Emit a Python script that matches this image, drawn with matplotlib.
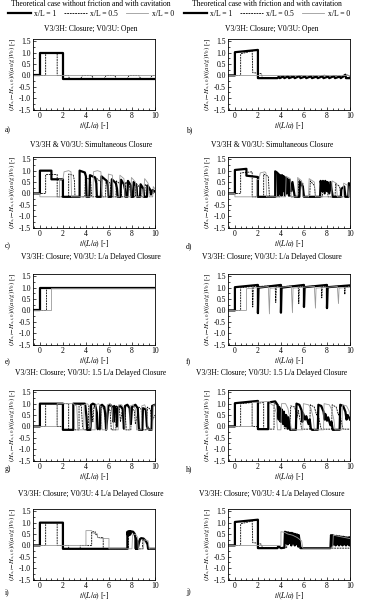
import matplotlib
matplotlib.use('Agg')
import matplotlib.pyplot as plt
from matplotlib.lines import Line2D
from matplotlib.ticker import MultipleLocator

plt.rcParams['font.family'] = ['Liberation Serif', 'DejaVu Serif']
plt.rcParams['mathtext.fontset'] = 'stix'

# (t/(L/a), head) break points, per panel and section
# a) no friction, V3 closure, V0 open
a_x1 = [(-0.6, 0), (0, 0), (0, 1.0), (2.0, 1.0), (2.0, -0.14), (10, -0.14)]
a_x05 = [(-0.6, 0), (0.5, 0), (0.5, 1.0), (1.5, 1.0), (1.5, 0), (2.5, 0), (2.55, -0.14), (3.55, -0.14),
         (3.7, 0), (4.5, 0), (4.65, -0.14), (5.6, -0.14), (5.75, 0), (6.5, 0), (6.65, -0.14), (7.6, -0.14),
         (7.75, 0), (8.6, 0), (8.75, -0.14), (9.6, -0.14), (9.75, 0), (10, 0)]
a_x0 = [(-0.6, 0), (10, 0)]

# b) friction, V3 closure, V0 open
b_x1 = [(-0.6, 0), (0, 0), (0, 1.02), (2.0, 1.12), (2.0, -0.12), (3.7, -0.12), (3.8, -0.06), (3.9, -0.12),
        (4.2, -0.05), (4.3, -0.12), (4.6, -0.04), (4.7, -0.12), (5.1, -0.05), (5.2, -0.12), (5.6, -0.03),
        (5.7, -0.12), (6.1, -0.05), (6.2, -0.12), (6.6, -0.04), (6.7, -0.12), (7.1, -0.05), (7.2, -0.12),
        (7.6, -0.04), (7.7, -0.12), (8.1, -0.05), (8.2, -0.12), (8.6, -0.03), (8.7, -0.12), (9.1, -0.05),
        (9.2, -0.12), (9.6, 0.03), (9.65, -0.12), (10, -0.12)]
b_x05 = [(-0.6, 0), (0.5, 0), (0.5, 0.95), (1.5, 1.07), (1.55, 0.12), (2.0, 0.1), (2.3, 0.07), (2.4, -0.1),
         (3.7, -0.1), (4.0, -0.03), (4.4, -0.1), (4.9, -0.02), (5.3, -0.1), (5.8, 0.0), (6.3, -0.1),
         (6.8, -0.02), (7.3, -0.1), (7.8, 0.02), (8.3, -0.1), (8.8, 0.0), (9.3, -0.1), (9.8, 0.02), (10, -0.08)]
b_x0 = [(-0.6, 0), (10, 0)]

# c) no friction, simultaneous closure
c_x1 = [(-0.6, 0), (0, 0), (0, 1.0), (1.0, 1.0), (1.0, 0.62), (2.0, 0.62), (2.0, -0.15), (3.45, -0.15),
        (3.45, 1.0), (3.9, 0.92), (4.0, 0.75), (4.05, -0.15), (4.3, -0.15), (4.35, 0.8), (4.8, 0.7),
        (4.9, 0.45), (4.95, -0.15), (5.3, -0.15), (5.35, 0.75), (5.8, 0.55), (5.9, 0.35), (5.95, -0.15),
        (6.2, -0.15), (6.25, 0.62), (6.6, 0.45), (6.7, 0.2), (6.75, -0.15), (7.0, -0.15), (7.05, 0.6),
        (7.3, 0.4), (7.4, 0.15), (7.45, -0.15), (7.6, -0.15), (7.65, 0.55), (7.9, 0.35), (7.95, -0.15),
        (8.1, -0.15), (8.15, 0.5), (8.4, 0.3), (8.45, -0.15), (8.7, -0.15), (8.75, 0.4), (9.0, 0.2),
        (9.05, -0.15), (9.3, -0.15), (9.35, 0.35), (9.6, 0.15), (9.65, -0.05), (9.8, 0.15), (10, 0.08)]
c_x05 = [(-0.6, 0), (0.5, 0), (0.5, 0.83), (1.5, 0.83), (1.5, -0.15), (2.5, -0.15), (2.5, 0.85), (2.9, 0.8),
         (3.0, 0.55), (3.05, -0.15), (3.9, -0.15), (3.95, 0.7), (4.4, 0.6), (4.5, -0.15), (4.9, -0.15),
         (4.95, 0.65), (5.3, 0.5), (5.4, -0.15), (5.7, -0.15), (5.75, 0.6), (6.1, 0.45), (6.2, -0.15),
         (6.6, -0.15), (6.65, 0.55), (7.0, 0.4), (7.1, -0.15), (7.4, -0.15), (7.45, 0.5), (7.8, 0.3),
         (7.9, -0.15), (8.3, -0.15), (8.35, 0.45), (8.7, 0.25), (8.8, -0.15), (9.1, -0.15), (9.15, 0.4),
         (9.5, 0.2), (9.6, -0.05), (10, 0.05)]
c_x0 = [(-0.6, 0), (0, 0), (0, -0.15), (1.7, -0.15), (1.7, 0.62), (2.0, 0.62), (2.1, 0.95), (2.5, 1.0),
        (2.7, 0.95), (2.75, -0.15), (4.6, -0.15), (4.65, 0.95), (5.0, 1.0), (5.3, 0.95), (5.4, -0.15),
        (5.9, -0.15), (5.95, 0.85), (6.3, 0.8), (6.4, -0.15), (6.9, -0.15), (6.95, 0.8), (7.3, 0.65),
        (7.4, -0.15), (7.9, -0.15), (7.95, 0.7), (8.3, 0.5), (8.4, -0.15), (9.0, -0.15), (9.1, 0.65),
        (9.4, 0.45), (9.5, -0.15), (9.8, -0.15), (9.85, 0.3), (10, 0.2)]

# d) friction, simultaneous closure
d_x1 = [(-0.6, 0), (0, 0), (0, 1.03), (1.0, 1.08), (1.0, 0.78), (2.0, 0.72), (2.0, -0.15), (3.5, -0.15),
        (3.5, 0.97), (3.7, 0.9), (3.75, -0.1), (3.8, 0.85), (3.9, 0.0), (3.95, 0.8), (4.05, -0.1),
        (4.1, 0.8), (4.2, 0.1), (4.25, 0.75), (4.35, -0.1), (4.4, 0.7), (4.5, 0.0), (4.55, 0.65),
        (4.7, -0.1), (4.75, 0.6), (4.9, 0.1), (5.0, 0.5), (5.2, -0.15), (5.6, -0.15), (5.65, 0.5),
        (5.9, 0.3), (6.0, -0.15), (7.4, -0.15), (7.45, 0.55), (7.6, 0.1), (7.65, 0.55), (7.8, 0.0),
        (7.85, 0.55), (8.0, 0.1), (8.05, 0.5), (8.2, 0.0), (8.3, 0.5), (8.5, -0.15), (9.2, -0.15),
        (9.25, 0.2), (9.5, 0.3), (9.6, -0.15), (9.85, -0.15), (9.9, 0.45), (10, 0.4)]
d_x05 = [(-0.6, 0), (0.5, 0), (0.5, 0.9), (1.5, 0.95), (1.5, -0.15), (2.5, -0.15), (2.5, 0.85), (2.9, 0.75),
         (3.0, -0.15), (3.9, -0.15), (3.95, 0.8), (4.3, 0.7), (4.4, -0.1), (4.5, 0.65), (4.7, 0.5),
         (4.8, -0.15), (5.5, -0.15), (5.55, 0.6), (5.9, 0.45), (6.0, -0.15), (6.5, -0.15), (6.55, 0.55),
         (6.9, 0.35), (7.0, -0.15), (7.6, -0.15), (7.65, 0.5), (8.0, 0.3), (8.1, -0.15), (8.7, -0.15),
         (8.75, 0.45), (9.1, 0.3), (9.2, -0.15), (10, -0.15)]
d_x0 = [(-0.6, 0), (0, 0), (0, -0.15), (1.9, -0.15), (1.9, 0.6), (2.1, 0.62), (2.2, 0.9), (2.6, 0.95),
        (2.7, 0.9), (2.75, -0.15), (4.4, -0.15), (4.45, 0.75), (4.8, 0.65), (4.9, -0.15), (5.4, -0.15),
        (5.45, 0.7), (5.8, 0.55), (5.9, -0.15), (6.4, -0.15), (6.45, 0.65), (6.9, 0.5), (7.0, -0.15),
        (8.4, -0.15), (8.45, 0.55), (8.8, 0.45), (8.9, -0.15), (9.4, -0.15), (9.45, 0.45), (9.8, 0.35),
        (9.9, -0.15), (10, -0.15)]

# e) no friction, L/a delayed closure
e_x1 = [(-0.6, 0), (0, 0), (0, 1.0), (10, 1.0)]
e_x05 = [(-0.6, 0), (0.5, 0), (0.5, 1.0), (10, 1.0)]
e_x0 = [(-0.6, 0), (1.0, 0), (1.0, 1.0), (10, 1.0)]

# f) friction, L/a delayed closure
f_x1 = [(-0.6, 0), (0, 0), (0, 1.02), (2.0, 1.12), (2.0, -0.12), (2.05, 1.0), (4.0, 1.12), (4.0, -0.1),
        (4.05, 1.0), (6.0, 1.12), (6.0, 0.15), (6.05, 1.02), (8.0, 1.12), (8.0, 0.1), (8.05, 1.02), (10, 1.1)]
f_x05 = [(-0.6, 0), (0.5, 0), (0.5, 1.0), (1.5, 1.05), (1.55, 0.15), (1.6, 1.05), (3.5, 1.08), (3.55, 0.35),
         (3.6, 1.04), (5.5, 1.08), (5.55, 0.3), (5.6, 1.04), (7.5, 1.08), (7.55, 0.55), (7.6, 1.04),
         (9.5, 1.07), (9.55, 0.7), (9.6, 1.04), (10, 1.05)]
f_x0 = [(-0.6, 0), (1.0, 0), (1.0, 0.95), (2.9, 1.05), (3.0, -0.15), (3.05, 0.97), (4.9, 1.06), (5.0, -0.1),
        (5.05, 0.98), (6.9, 1.06), (7.0, 0.1), (7.05, 0.98), (8.9, 1.05), (9.0, 0.3), (9.05, 0.98), (10, 1.02)]

# g) no friction, 1.5 L/a delayed closure
g_x1 = [(-0.6, 0), (0, 0), (0, 1.0), (2.0, 1.0), (2.0, -0.15), (2.9, -0.15), (2.9, 1.0), (3.9, 1.0),
        (3.95, 0.9), (4.05, 0.4), (4.1, -0.15), (4.4, -0.15), (4.45, 0.95), (4.6, 1.0), (4.8, 0.95),
        (4.95, 0.6), (5.0, -0.1), (5.2, -0.1), (5.25, 0.9), (5.4, 0.95), (5.6, 0.85), (5.7, 0.4),
        (5.75, -0.15), (5.95, 0.9), (6.1, 0.95), (6.3, 0.85), (6.4, 0.2), (6.45, 0.9), (6.6, 0.8),
        (6.7, 0.0), (6.8, 0.85), (7.0, 0.9), (7.2, 0.75), (7.3, -0.1), (7.4, 0.9), (7.6, 0.95), (7.8, 0.8),
        (7.9, 0.1), (8.0, 0.85), (8.3, 0.95), (8.5, 0.8), (8.6, -0.15), (8.9, -0.15), (8.95, 0.8),
        (9.2, 0.75), (9.3, 0.0), (9.5, -0.15), (9.7, -0.15), (9.75, 0.9), (10, 0.95)]
g_x05 = [(-0.6, 0), (0.5, 0), (0.5, 1.0), (1.5, 1.0), (1.5, 0.0), (2.0, 0.0), (2.0, 1.0), (2.5, 1.0),
         (2.5, -0.15), (3.4, -0.15), (3.4, 1.0), (3.6, 0.9), (3.7, 0.0), (3.8, -0.15), (4.2, -0.15),
         (4.25, 0.9), (4.5, 0.85), (4.6, 0.2), (4.7, 0.9), (4.9, 0.8), (5.0, -0.15), (5.3, -0.15),
         (5.35, 0.85), (5.6, 0.75), (5.7, 0.1), (5.9, 0.8), (6.1, 0.7), (6.2, -0.15), (6.6, -0.15),
         (6.65, 0.9), (6.9, 0.8), (7.0, 0.2), (7.2, 0.85), (7.4, 0.7), (7.5, -0.15), (7.9, -0.15),
         (7.95, 0.8), (8.2, 0.7), (8.3, 0.1), (8.6, 0.85), (8.8, 0.75), (8.9, -0.15), (9.3, -0.15),
         (9.35, 0.85), (9.6, 0.75), (9.7, 0.2), (10, 0.5)]
g_x0 = [(-0.6, 0), (1.5, 0), (1.5, 1.0), (2.9, 1.0), (3.0, 0.95), (3.2, 0.9), (3.3, -0.15), (3.8, -0.15),
        (3.85, 0.95), (4.1, 1.0), (4.3, 0.9), (4.4, 0.0), (4.5, -0.15), (4.8, -0.15), (4.85, 0.95),
        (5.1, 1.0), (5.3, 0.85), (5.4, -0.15), (5.8, -0.15), (5.85, 0.95), (6.1, 1.0), (6.3, 0.8),
        (6.4, -0.15), (6.8, -0.15), (6.85, 0.95), (7.1, 0.95), (7.3, 0.8), (7.4, -0.15), (7.8, -0.15),
        (7.85, 0.9), (8.1, 0.95), (8.3, 0.75), (8.4, -0.15), (8.8, -0.15), (8.85, 0.9), (9.1, 0.95),
        (9.3, 0.7), (9.4, -0.15), (9.8, -0.15), (9.85, 0.9), (10, 0.95)]

# h) friction, 1.5 L/a delayed closure
h_x1 = [(-0.6, 0), (0, 0), (0, 1.02), (2.0, 1.12), (2.0, -0.12), (2.9, -0.12), (2.9, 1.05), (3.5, 1.1),
        (3.7, 0.95), (3.8, 0.3), (3.85, 0.85), (4.0, 0.2), (4.05, 0.75), (4.2, 0.1), (4.25, 0.65),
        (4.4, 0.0), (4.45, 0.5), (4.6, -0.1), (4.65, 0.4), (4.8, -0.15), (5.3, -0.15), (5.35, 1.0),
        (5.6, 0.95), (5.8, 0.7), (5.85, 0.2), (5.9, 0.6), (6.1, 0.3), (6.2, 0.45), (6.4, 0.1), (6.5, 0.3),
        (6.6, -0.1), (6.7, -0.15), (7.2, -0.15), (7.25, 0.95), (7.5, 0.9), (7.7, 0.65), (7.8, 0.3),
        (7.85, 0.55), (8.0, 0.25), (8.1, 0.4), (8.3, 0.05), (8.4, 0.2), (8.5, -0.15), (9.1, -0.15),
        (9.15, 0.95), (9.4, 0.9), (9.6, 0.65), (9.7, 0.3), (9.8, 0.5), (10, 0.3)]
h_x05 = [(-0.6, 0), (0.5, 0), (0.5, 1.0), (1.5, 1.05), (1.5, 0.0), (2.0, 0.0), (2.0, 1.02), (2.5, 1.05),
         (2.5, -0.12), (3.4, -0.12), (3.4, 1.0), (3.8, 0.95), (3.9, 0.2), (4.0, 0.8), (4.2, 0.5),
         (4.3, -0.1), (4.8, -0.12), (4.85, 0.9), (5.2, 0.85), (5.4, 0.4), (5.5, 0.7), (5.7, 0.2),
         (5.8, -0.12), (6.5, -0.12), (6.55, 0.95), (6.9, 0.85), (7.1, 0.5), (7.2, 0.65), (7.4, 0.1),
         (7.5, -0.12), (8.4, -0.12), (8.45, 0.95), (8.8, 0.85), (9.0, 0.5), (9.1, 0.6), (9.3, 0.1),
         (9.4, -0.12), (10, -0.12)]
h_x0 = [(-0.6, 0), (1.5, 0), (1.5, 1.05), (3.0, 1.1), (3.1, 1.0), (3.4, 0.9), (3.6, 0.6), (3.7, -0.15),
        (4.0, -0.15), (4.05, 1.0), (4.4, 1.0), (4.6, 0.8), (4.8, 0.3), (4.9, -0.15), (5.9, -0.15),
        (5.95, 1.0), (6.4, 0.95), (6.6, 0.8), (6.8, 0.4), (6.9, -0.15), (7.7, -0.15), (7.75, 1.0),
        (8.2, 0.95), (8.4, 0.75), (8.6, 0.3), (8.7, -0.15), (9.3, -0.15), (9.35, 0.95), (9.7, 0.9),
        (9.9, 0.7), (10, 0.5)]

# i) no friction, 4 L/a delayed closure
i_x1 = [(-0.6, 0), (0, 0), (0, 1.0), (2.0, 1.0), (2.0, -0.15), (7.6, -0.15), (7.6, 0.6), (7.65, 0.45),
        (7.7, 0.62), (7.75, 0.45), (7.8, 0.62), (7.85, 0.48), (7.9, 0.62), (8.1, 0.6), (8.25, 0.5),
        (8.3, 0.3), (8.33, -0.15), (8.36, 0.3), (8.4, -0.15), (8.45, 0.2), (8.5, -0.15), (8.6, 0.1),
        (8.7, 0.28), (8.8, 0.32), (9.0, 0.3), (9.2, 0.2), (9.35, 0.05), (9.4, -0.15), (10, -0.15)]
i_x05 = [(-0.6, 0), (0.5, 0), (0.5, 1.0), (1.5, 1.0), (1.5, 0.0), (2.5, 0.0), (2.5, -0.15), (3.5, -0.15),
         (3.5, 0.0), (4.5, 0.0), (4.5, 0.6), (4.8, 0.6), (4.8, 0.5), (5.0, 0.45), (5.0, 0.35), (5.5, 0.35),
         (5.5, -0.15), (7.7, -0.15), (7.7, 0.5), (8.0, 0.55), (8.3, 0.4), (8.4, -0.15), (8.9, -0.15),
         (8.95, 0.25), (9.3, 0.15), (9.4, -0.15), (10, -0.15)]
i_x0 = [(-0.6, 0), (4.0, 0), (4.0, 0.65), (4.5, 0.65), (4.6, 0.55), (5.0, 0.5), (5.0, 0.35), (5.5, 0.3),
        (6.0, 0.3), (6.0, -0.15), (8.0, -0.15), (8.05, 0.45), (8.3, 0.5), (8.5, 0.35), (8.55, -0.15),
        (9.0, -0.15), (9.05, 0.25), (9.4, 0.2), (9.5, -0.15), (10, -0.15)]

# j) friction, 4 L/a delayed closure
j_x1 = [(-0.6, 0), (0, 0), (0, 1.03), (2.0, 1.13), (2.0, -0.12), (3.7, -0.12), (3.75, -0.05), (3.9, -0.08),
        (4.0, -0.12), (4.3, -0.1), (4.35, 0.6), (4.45, 0.1), (4.5, 0.58), (4.6, 0.05), (4.65, 0.57),
        (4.75, 0.1), (4.8, 0.55), (4.9, 0.0), (4.95, 0.55), (5.05, 0.1), (5.1, 0.52), (5.2, 0.0),
        (5.25, 0.5), (5.35, 0.05), (5.4, 0.48), (5.5, -0.05), (5.55, 0.45), (5.7, -0.12), (8.3, -0.12),
        (8.35, 0.45), (8.45, 0.0), (8.5, 0.45), (8.6, 0.05), (8.65, 0.42), (8.75, 0.0), (8.8, 0.42),
        (8.9, 0.05), (8.95, 0.4), (9.05, 0.0), (9.1, 0.4), (9.2, 0.05), (9.25, 0.38), (9.35, 0.0),
        (9.4, 0.38), (9.5, 0.05), (9.55, 0.36), (9.65, 0.0), (9.7, 0.35), (9.8, 0.05), (9.85, 0.35),
        (9.95, 0.0), (10, 0.35)]
j_x05 = [(-0.6, 0), (0.5, 0), (0.5, 0.95), (1.5, 1.07), (1.55, 0.12), (2.0, 0.1), (2.3, 0.05), (2.4, -0.1),
         (4.5, -0.1), (4.5, 0.4), (4.6, 0.45), (4.8, 0.3), (5.0, 0.4), (5.3, 0.2), (5.6, -0.12), (10, -0.12)]
j_x0 = [(-0.6, 0), (4.0, 0), (4.0, 0.6), (4.3, 0.58), (4.6, 0.5), (5.0, 0.45), (5.4, 0.35), (5.8, 0.2),
        (5.9, -0.12), (8.5, -0.12), (8.55, 0.45), (9.0, 0.4), (9.5, 0.35), (10, 0.3)]

headers = ['Theoretical case without friction and with cavitation',
           'Theoretical case with friction and with cavitation']
row_titles = ['V3/3H: Closure; V0/3U: Open',
              'V3/3H & V0/3U: Simultaneous Closure',
              'V3/3H: Closure; V0/3U: L/a Delayed Closure',
              'V3/3H: Closure; V0/3U: 1.5 L/a Delayed Closure',
              'V3/3H: Closure; V0/3U: 4 L/a Delayed Closure']
panel_letters = [['a)', 'b)'], ['c)', 'd)'], ['e)', 'f)'], ['g)', 'h)'], ['i)', 'j)']]
series_labels = ['x/L = 1', 'x/L = 0.5', 'x/L = 0']

panels = [[(a_x1, a_x05, a_x0), (b_x1, b_x05, b_x0)],
          [(c_x1, c_x05, c_x0), (d_x1, d_x05, d_x0)],
          [(e_x1, e_x05, e_x0), (f_x1, f_x05, f_x0)],
          [(g_x1, g_x05, g_x0), (h_x1, h_x05, h_x0)],
          [(i_x1, i_x05, i_x0), (j_x1, j_x05, j_x0)]]

W, H = 365, 610
fig = plt.figure(figsize=(W / 100, H / 100), dpi=100)

styles = [dict(color='black', lw=1.6, ls='-'),
          dict(color='black', lw=0.6, ls=(0, (2.2, 1.0))),
          dict(color='#9a9a9a', lw=0.6, ls='-')]

ax_top = [39, 157, 274, 390, 509]
ax_h = 71
col_left = [33, 228]
ax_w = 122
title_y = [29, 145, 257, 373, 494]
letter_y = [130, 246, 362, 469, 592]
title_cx = [91, 272]
head_cx = [91, 267]
fs = 5.5

for r in range(5):
    for c in range(2):
        ax = fig.add_axes([col_left[c] / W, 1 - (ax_top[r] + ax_h) / H, ax_w / W, ax_h / H])
        for pts, st in zip(panels[r][c], styles):
            t, v = zip(*pts)
            ax.plot(t, v, **st)
        ax.set_xlim(-0.6, 10)
        ax.set_ylim(-1.52, 1.6)
        ax.xaxis.set_major_locator(MultipleLocator(2))
        ax.xaxis.set_minor_locator(MultipleLocator(0.5))
        ax.yaxis.set_minor_locator(MultipleLocator(0.25))
        ax.set_yticks([-1.5, -1.0, -0.5, 0.0, 0.5, 1.0, 1.5])
        ax.set_yticklabels(['-1.5', '-1.0', '-0.5', '0.0', '0.5', '1.0', '1.5'])
        ax.tick_params(which='both', direction='in', labelsize=fs, pad=1.5, width=0.5)
        ax.tick_params(which='major', length=2.5)
        ax.tick_params(which='minor', length=1.3)
        for sp in ax.spines.values():
            sp.set_linewidth(0.6)
        ax.set_xlabel(r'$t/(L/a)$ [-]', fontsize=fs, labelpad=0.5)
        ax.set_ylabel(r'$(H_{x,t}\!-\!H_{x,t,0})/((a_0/g)V_0)$ [-]', fontsize=4.9, labelpad=1.5)
        fig.text(title_cx[c] / W, 1 - title_y[r] / H, row_titles[r], fontsize=fs,
                 ha='center', va='center')
        fig.text((5 + 181 * c) / W, 1 - letter_y[r] / H, panel_letters[r][c], fontsize=fs,
                 ha='left', va='center')

handles = [Line2D([], [], **st) for st in styles]
for c in range(2):
    fig.text(head_cx[c] / W, 1 - 4 / H, headers[c], fontsize=fs, ha='center', va='center')
    fig.legend(handles, series_labels, loc='center', bbox_to_anchor=(head_cx[c] / W, 1 - 14 / H),
               ncol=3, frameon=False, fontsize=fs, handlelength=3.0, handletextpad=0.4,
               columnspacing=1.0, borderpad=0, borderaxespad=0)

fig.savefig('out.png', dpi=100)
